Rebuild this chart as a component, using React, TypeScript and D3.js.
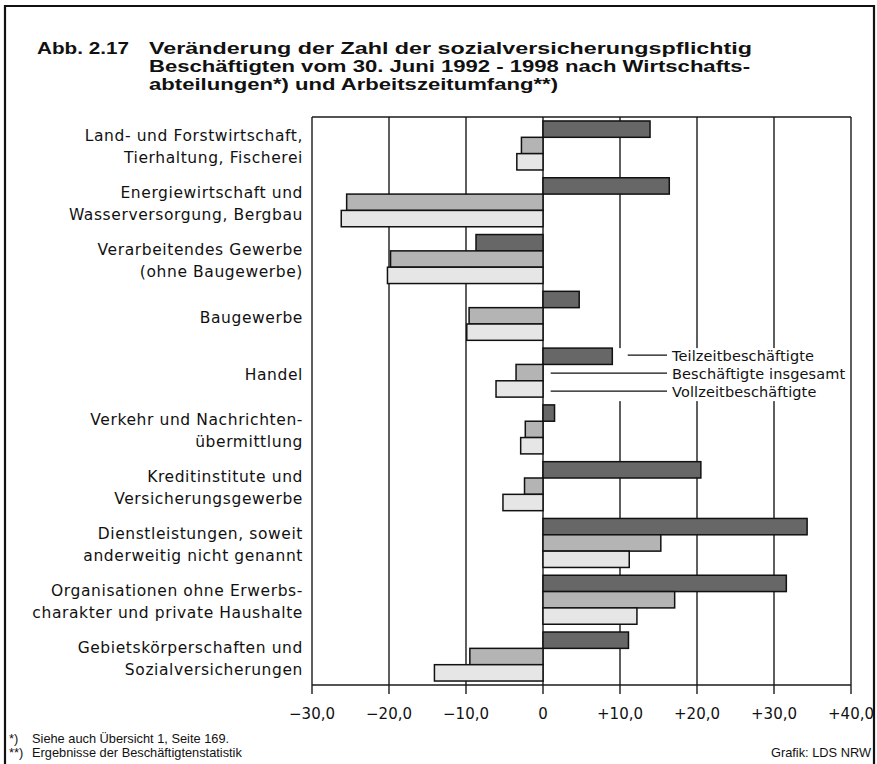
import React from "react";
import * as d3 from "d3";

const categories: string[][] = [
  ["Land- und Forstwirtschaft,", "Tierhaltung, Fischerei"],
  ["Energiewirtschaft und", "Wasserversorgung, Bergbau"],
  ["Verarbeitendes Gewerbe", "(ohne Baugewerbe)"],
  ["Baugewerbe"],
  ["Handel"],
  ["Verkehr und Nachrichten-", "übermittlung"],
  ["Kreditinstitute und", "Versicherungsgewerbe"],
  ["Dienstleistungen, soweit", "anderweitig nicht genannt"],
  ["Organisationen ohne Erwerbs-", "charakter und private Haushalte"],
  ["Gebietskörperschaften und", "Sozialversicherungen"],
];

const seriesNames = ["Teilzeitbeschäftigte", "Beschäftigte insgesamt", "Vollzeitbeschäftigte"];
const teilzeit = [13.9, 16.4, -8.7, 4.7, 9.0, 1.5, 20.5, 34.3, 31.6, 11.1];
const insgesamt = [-2.8, -25.5, -19.8, -9.6, -3.5, -2.3, -2.4, 15.3, 17.1, -9.5];
const vollzeit = [-3.4, -26.2, -20.2, -9.9, -6.1, -2.9, -5.2, 11.2, 12.2, -14.1];
const seriesColors = ["#676767", "#b4b4b4", "#e6e6e6"];

const tickValues = [-30, -20, -10, 0, 10, 20, 30, 40];
const tickLabels = ["\u221230,0", "\u221220,0", "\u221210,0", "0", "+10,0", "+20,0", "+30,0", "+40,0"];

const titleNumber = "Abb. 2.17";
const titleLines = [
  "Veränderung der Zahl der sozialversicherungspflichtig",
  "Beschäftigten vom 30. Juni 1992 - 1998 nach Wirtschafts-",
  "abteilungen*) und Arbeitszeitumfang**)",
];
const titleWidths = [603, 601, 409];
const footnotes = [
  ["*)", "Siehe auch Übersicht 1, Seite 169."],
  ["**)", "Ergebnisse der Beschäftigtenstatistik"],
];
const credit = "Grafik: LDS NRW";

const W = 877;
const H = 764;
const left = 312;
const right = 851;
const top = 117;
const bottom = 685;

export default function App() {
  const x = d3.scaleLinear().domain([-30, 40]).range([left, right]);
  const keys = categories.map((_, i) => String(i));
  const y = d3.scaleBand<string>().domain(keys).range([top, bottom]).paddingInner(0.137).paddingOuter(0.07);
  const ys = d3.scaleBand<string>().domain(["0", "1", "2"]).range([0, y.bandwidth()]);
  const series = [teilzeit, insgesamt, vollzeit];
  const labelFont = "'DejaVu Sans', 'Liberation Sans', sans-serif";
  const smallFont = "'Liberation Sans', Arial, sans-serif";
  const lineColor = "#1a1a1a";

  const handelTop = y("4")!;
  const legendLineY = [handelTop + 7, handelTop + 25, handelTop + 43];
  const legendLineX0 = [x(11), x(1), x(1)];

  return (
    <svg width={W} height={H} style={{ position: "absolute", left: 0, top: 0, background: "#fff" }}>
      <rect x={0} y={0} width={W} height={H} fill="#fff" />
      {/* outer frame */}
      <path d={`M5,${H} V6 H874 V${H}`} fill="none" stroke="#111" strokeWidth={2.2} />

      {/* title */}
      <g fontFamily="'Liberation Sans', Arial, sans-serif" fontWeight="bold" fontSize={17} fill="#111">
        <text x={37} y={54} textLength={92} lengthAdjust="spacingAndGlyphs">{titleNumber}</text>
        {titleLines.map((t, i) => (
          <text key={i} x={149} y={54 + i * 18} textLength={titleWidths[i]} lengthAdjust="spacingAndGlyphs">{t}</text>
        ))}
      </g>

      {/* grid lines */}
      <line x1={left} x2={right} y1={top} y2={top} stroke={lineColor} strokeWidth={1.4} />
      {tickValues.map((v) => (
        <line key={v} x1={x(v)} x2={x(v)} y1={top} y2={bottom + 9} stroke={lineColor} strokeWidth={1.4} />
      ))}
      <line x1={left} x2={right} y1={bottom} y2={bottom} stroke={lineColor} strokeWidth={1.6} />

      {/* legend background */}
      <rect x={546} y={handelTop} width={300} height={53} fill="#fff" />

      {/* bars */}
      {categories.map((_, i) =>
        series.map((s, j) => {
          const v = s[i];
          const x0 = x(Math.min(0, v));
          const x1 = x(Math.max(0, v));
          return (
            <rect
              key={`${i}-${j}`}
              x={x0}
              y={y(String(i))! + ys(String(j))!}
              width={x1 - x0}
              height={ys.bandwidth()}
              fill={seriesColors[j]}
              stroke="#111"
              strokeWidth={1.5}
            />
          );
        })
      )}

      {/* legend */}
      <g fontFamily={labelFont} fontSize={14.5} fill="#111" letterSpacing={0.12}>
        {seriesNames.map((n, j) => (
          <g key={n}>
            <line x1={legendLineX0[j]} x2={667} y1={legendLineY[j]} y2={legendLineY[j]} stroke="#111" strokeWidth={1.3} />
            <text x={672} y={legendLineY[j] + 6}>{n}</text>
          </g>
        ))}
      </g>

      {/* category labels */}
      <g fontFamily={labelFont} fontSize={15.5} fill="#111" textAnchor="end" letterSpacing={0.6}>
        {categories.map((lines, i) => {
          const c = y(String(i))! + y.bandwidth() / 2;
          if (lines.length === 1) {
            return <text key={i} x={303} y={c + 7}>{lines[0]}</text>;
          }
          return (
            <g key={i}>
              <text x={303} y={c - 4}>{lines[0]}</text>
              <text x={303} y={c + 18}>{lines[1]}</text>
            </g>
          );
        })}
      </g>

      {/* tick labels */}
      <g fontFamily={labelFont} fontSize={15} fill="#111" textAnchor="middle">
        {tickValues.map((v, i) => (
          <text key={v} x={x(v)} y={719}>{tickLabels[i]}</text>
        ))}
      </g>

      {/* footnotes */}
      <g fontFamily={smallFont} fontSize={12.8} fill="#111">
        {footnotes.map((f, i) => (
          <g key={i}>
            <text x={9} y={743 + i * 14}>{f[0]}</text>
            <text x={32} y={743 + i * 14}>{f[1]}</text>
          </g>
        ))}
        <text x={871} y={757} textAnchor="end">{credit}</text>
      </g>
    </svg>
  );
}
